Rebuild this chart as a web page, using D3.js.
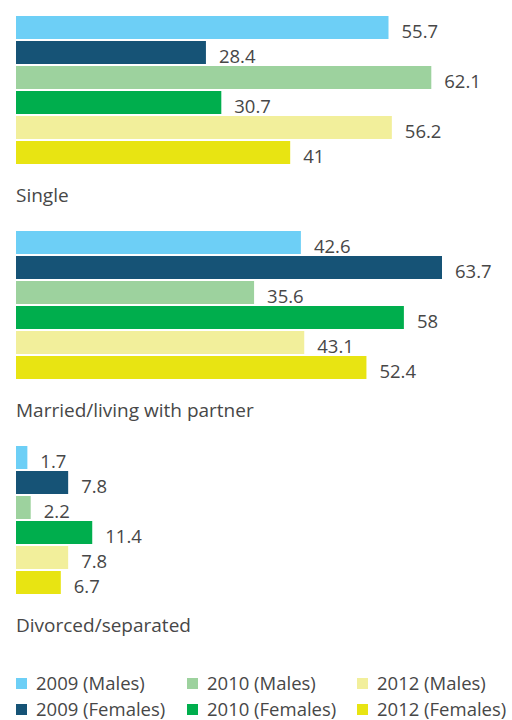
<!DOCTYPE html>
<html>
<head>
<meta charset="utf-8">
<script src="https://cdn.jsdelivr.net/npm/d3@7"></script>
<style>
  html, body { margin: 0; padding: 0; background: #fff; }
  svg { display: block; font-family: "Open Sans", "Noto Sans", sans-serif; }
</style>
</head>
<body>
<svg id="chart" width="512" height="720"></svg>
<script>
const categories = ["Single", "Married/living with partner", "Divorced/separated"];
const seriesNames = ["2009 (Males)", "2009 (Females)", "2010 (Males)", "2010 (Females)", "2012 (Males)", "2012 (Females)"];
const males2009   = [55.7, 42.6, 1.7];
const females2009 = [28.4, 63.7, 7.8];
const males2010   = [62.1, 35.6, 2.2];
const females2010 = [30.7, 58, 11.4];
const males2012   = [56.2, 43.1, 7.8];
const females2012 = [41, 52.4, 6.7];
const colors = ["#6dcff6", "#165376", "#9dd29e", "#00ae4d", "#f2ef9b", "#e8e412"];

const seriesValues = [males2009, females2009, males2010, females2010, males2012, females2012];

const svg = d3.select("#chart");
const textColor = "#474747";

const x = d3.scaleLinear().domain([0, 63.7]).range([16, 442]);
const yGroup = d3.scaleBand().domain(categories).range([16, 16 + 3 * 215]);
const yInner = d3.scaleBand().domain(seriesNames).range([0, 148]).paddingInner(0.08);
const color = d3.scaleOrdinal().domain(seriesNames).range(colors);

const groups = svg.selectAll("g.group")
  .data(categories)
  .join("g")
  .attr("class", "group")
  .attr("transform", d => `translate(0,${yGroup(d)})`);

groups.each(function(cat, ci) {
  const g = d3.select(this);
  const rows = seriesNames.map((s, si) => ({ s, v: seriesValues[si][ci] }));
  g.selectAll("rect")
    .data(rows)
    .join("rect")
    .attr("x", x(0))
    .attr("y", d => yInner(d.s))
    .attr("width", d => x(d.v) - x(0))
    .attr("height", yInner.bandwidth())
    .attr("fill", d => color(d.s));
  g.selectAll("text.val")
    .data(rows)
    .join("text")
    .attr("class", "val")
    .attr("x", d => x(d.v) + 13)
    .attr("y", d => yInner(d.s) + yInner.bandwidth() - 1)
    .attr("font-size", 18.5)
    .attr("fill", textColor)
    .text(d => d.v);
  g.append("text")
    .attr("x", 16)
    .attr("y", 186)
    .attr("font-size", 19)
    .attr("fill", textColor)
    .text(cat);
});

// Legend
const legendCols = [16, 187, 357];
const legendRows = [677, 703];
const legend = svg.selectAll("g.legend")
  .data(seriesNames)
  .join("g")
  .attr("class", "legend")
  .attr("transform", (d, i) => `translate(${legendCols[Math.floor(i / 2)]},${legendRows[i % 2]})`);
legend.append("rect")
  .attr("y", 1)
  .attr("width", 11).attr("height", 11)
  .attr("fill", d => color(d));
legend.append("text")
  .attr("x", 20)
  .attr("y", 13)
  .attr("font-size", 18.5)
  .attr("fill", textColor)
  .text(d => d);
</script>
</body>
</html>
